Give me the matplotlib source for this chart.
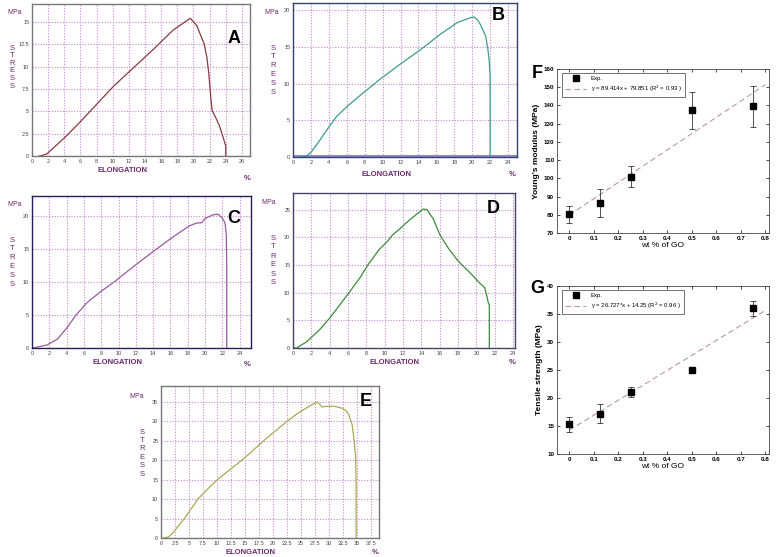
import matplotlib
matplotlib.use("Agg")
import matplotlib.pyplot as plt
import numpy as np

plt.rcParams['font.family'] = ['Liberation Sans', 'DejaVu Sans']

# stress-strain curves (elongation %, stress MPa)
a_strain = [0.9, 1.0, 1.8, 4.1, 5.95, 10.1, 12.6, 15.0, 17.5, 19.2, 19.6, 20.4, 20.8, 21.3,
            21.65, 21.9, 22.1, 22.3, 22.7, 23.2, 23.6, 24.0, 24.0]
a_stress = [0.0, 0.0, 0.2, 2.1, 3.8, 7.8, 9.9, 11.9, 14.1, 15.15, 15.4, 14.6, 13.7, 12.6,
            11.1, 9.2, 7.0, 5.1, 4.4, 3.4, 2.3, 1.1, 0.0]

b_strain = [0.75, 1.5, 2.05, 3.0, 3.9, 4.85, 6.0, 7.1, 8.2, 9.7, 11.9, 14.2, 16.4, 18.3,
            19.8, 20.2, 20.6, 20.9, 21.5, 21.75, 21.9, 22.0, 22.0, 22.0]
b_stress = [0.0, 0.1, 0.7, 2.3, 3.9, 5.5, 6.85, 8.0, 9.1, 10.6, 12.6, 14.6, 16.7, 18.3,
            19.0, 19.1, 18.7, 18.1, 16.5, 14.7, 13.1, 11.0, 6.9, 0.0]

c_strain = [0.0, 0.3, 1.7, 2.9, 4.0, 5.1, 6.3, 7.9, 9.5, 11.9, 14.4, 16.4, 18.2, 19.0, 19.6,
            20.0, 20.9, 21.5, 22.0, 22.3, 22.45, 22.5, 22.5]
c_stress = [0.0, 0.05, 0.45, 1.3, 3.0, 5.0, 6.8, 8.5, 10.0, 12.5, 15.0, 16.9, 18.5, 18.9, 18.95,
            19.6, 20.15, 20.25, 19.65, 18.9, 17.1, 12.6, 0.0]

d_strain = [0.0, 0.4, 1.5, 2.9, 4.0, 5.1, 6.2, 7.3, 8.2, 9.4, 10.2, 10.9, 11.5, 12.4, 13.5,
            14.2, 14.6, 15.3, 16.0, 16.9, 18.0, 19.3, 20.3, 20.9, 21.1, 21.3, 21.4, 21.4]
d_stress = [0.0, 0.0, 1.15, 3.3, 5.4, 7.8, 10.2, 12.7, 15.1, 17.8, 19.1, 20.5, 21.3, 22.7, 24.2,
            25.1, 25.0, 23.3, 20.5, 18.1, 15.7, 13.6, 11.8, 10.9, 9.6, 8.1, 7.8, 0.0]

e_strain = [0.0, 0.5, 1.4, 2.3, 3.3, 4.2, 5.3, 6.6, 8.3, 10.1, 12.3, 14.5, 16.5, 18.4, 20.5,
            22.6, 24.5, 26.5, 28.0, 28.8, 29.6, 31.0, 32.4, 33.0, 33.6, 34.2, 34.5, 34.8, 34.9, 34.9]
e_stress = [0.0, 0.0, 0.3, 1.6, 3.5, 5.0, 7.3, 10.0, 12.5, 15.0, 17.5, 20.0, 22.5, 25.0, 27.5,
            30.0, 32.0, 33.8, 34.9, 33.6, 33.8, 33.8, 33.3, 32.8, 31.6, 29.0, 25.6, 21.3, 15.3, 0.0]

# GO content series
wt_go = [0, 0.125, 0.25, 0.5, 0.75]
modulus = [80.2, 86.5, 101.0, 137.3, 139.5]
modulus_err = [4.5, 7.5, 5.5, 10.3, 11.2]
strength = [15.3, 17.2, 21.1, 25.0, 36.0]
strength_err = [1.3, 1.7, 0.85, 0.0, 1.3]
fit_mod = (89.414, 79.851)
fit_str = (26.727, 14.25)

W, H = 780, 557
fig = plt.figure(figsize=(7.8, 5.57), dpi=100)

purple = '#6b2a6b'
gridc = '#c58ad0'


def box(l, t, r, b):
    return [l / W, 1 - b / H, (r - l) / W, (b - t) / H]


def ftext(x, y, s, **kw):
    fig.text(x / W, 1 - y / H, s, **kw)


def stress_panel(rect, xs, ys, color, xlim, xstep, ylim, yticks, ylabels, frame,
                 letter, lpos, mpa, stress_x, stress_y, elong, pct):
    ax = fig.add_axes(box(*rect))
    ax.plot(xs, ys, color=color, lw=0.9)
    ax.set_xlim(*xlim)
    ax.set_ylim(*ylim)
    xt = np.arange(0, xlim[1] + 1e-6, xstep)
    ax.set_xticks(xt)
    ax.set_xticklabels([('%g' % v) for v in xt])
    ax.set_yticks(yticks)
    ax.set_yticklabels(ylabels)
    ax.tick_params(length=0, labelsize=4, colors='#444444', pad=2)
    ax.grid(True, color=gridc, ls=(0, (1, 1.5)), lw=0.8)
    for s in ax.spines.values():
        s.set_color(frame)
        s.set_linewidth(1.0)
    ax.text(lpos[0], lpos[1], letter, transform=ax.transAxes, fontsize=13,
            fontweight='bold', ha='center', va='center')
    ftext(mpa[0], mpa[1], 'MPa', fontsize=5, color=purple, ha='center', va='center')
    for i, ch in enumerate('STRESS'):
        ftext(stress_x, stress_y[0] + i * (stress_y[1] - stress_y[0]) / 5, ch,
              fontsize=5.5, color=purple, ha='center', va='center')
    ftext(elong[0], elong[1], 'ELONGATION', fontsize=5.5, color=purple,
          fontweight='bold', ha='center', va='center')
    ftext(pct[0], pct[1], '%', fontsize=5.5, color=purple, fontweight='bold',
          ha='center', va='center')
    return ax


stress_panel((32, 4, 250, 156), a_strain, a_stress, '#8a3a40', (0, 27), 2, (0, 17),
             [0, 2.5, 5, 7.5, 10, 12.5, 15], ['0', '2.5', '5', '7.5', '10', '12.5', '15'],
             '#777777', 'A', (0.925, 0.77), (15, 13), 12, (48, 86), (123, 171), (247, 178))

axb = stress_panel((293, 3, 517, 157), b_strain, b_stress, '#3d9c8c', (0, 25), 2, (0, 21),
                   [0, 5, 10, 15, 20], ['0', '5', '10', '15', '20'],
                   '#334466', 'B', (0.915, 0.92), (272, 12), 273, (48, 92), (386, 175), (512, 174))
axb.axhline(0.15, color='#8c86d8', lw=2.2, zorder=1)

stress_panel((32, 196, 251, 348), c_strain, c_stress, '#9a5aa0', (0, 25.3), 2, (0, 23),
             [0, 5, 10, 15, 20], ['0', '5', '10', '15', '20'],
             '#222255', 'C', (0.92, 0.85), (15, 205), 12, (240, 284), (118, 363), (247, 364))

stress_panel((293, 193, 515, 348), d_strain, d_stress, '#3c8a3c', (0, 24.2), 2, (0, 28),
             [0, 5, 10, 15, 20, 25], ['0', '5', '10', '15', '20', '25'],
             '#444466', 'D', (0.9, 0.9), (269, 202), 273, (238, 283), (395, 363), (512, 363))

stress_panel((161, 386, 379, 538), e_strain, e_stress, '#aaa855', (0, 39), 2.5, (0, 39),
             [0, 5, 10, 15, 20, 25, 30, 35], ['0', '5', '10', '15', '20', '25', '30', '35'],
             '#777777', 'E', (0.94, 0.9), (137, 397), 142, (432, 474), (250, 552), (375, 553))


def go_panel(rect, y, err, fit, ylim, yticks, ylabel, letter, lpos, fitlabel):
    ax = fig.add_axes(box(*rect))
    xf = np.array([0, 0.8])
    ax.plot(xf, fit[0] * xf + fit[1], ls=(0, (5, 3)), color='#b89a9e', lw=0.8,
            label=fitlabel, zorder=1)
    ax.errorbar(wt_go, y, yerr=err, fmt='s', color='black', ms=4, capsize=2,
                elinewidth=0.6, capthick=0.6, ecolor='#333333', label='Exp.', zorder=3)
    ax.set_xlim(-0.05, 0.815)
    ax.set_ylim(*ylim)
    ax.set_xticks(np.arange(0, 0.81, 0.1))
    ax.set_xticklabels(['0', '0.1', '0.2', '0.3', '0.4', '0.5', '0.6', '0.7', '0.8'])
    ax.set_yticks(yticks)
    ax.tick_params(direction='in', length=2, width=0.5, labelsize=4.5, top=True, right=True, pad=2)
    for lab in ax.get_xticklabels() + ax.get_yticklabels():
        lab.set_fontweight('bold')
    ax.set_xlabel('wt % of GO', fontsize=6, labelpad=1)
    ax.set_ylabel(ylabel, fontsize=6, fontweight='bold', labelpad=3)
    for s in ax.spines.values():
        s.set_linewidth(0.6)
        s.set_color('#444444')
    h, l = ax.get_legend_handles_labels()
    leg = ax.legend(h[::-1], l[::-1], loc='upper left', fontsize=4.3, frameon=True,
                    fancybox=False, edgecolor='#333333', borderpad=0.5, handlelength=3.5,
                    bbox_to_anchor=(0.01, 0.995))
    leg.get_frame().set_linewidth(0.6)
    ftext(lpos[0], lpos[1], letter, fontsize=13, fontweight='bold', ha='center', va='center')
    return ax


go_panel((557, 69, 769, 233), modulus, modulus_err, fit_mod, (70, 160),
         np.arange(70, 161, 10), "Young's modulus (MPa)", 'F', (537, 73),
         'y = 89.414x + 79.851 (R$^2$ = 0.93 )')
go_panel((557, 286, 769, 454), strength, strength_err, fit_str, (10, 40),
         np.arange(10, 41, 5), 'Tensile strength (MPa)', 'G', (537, 289),
         'y = 26.727*x + 14.25 (R$^2$ = 0.96 )')

fig.savefig('out.png', dpi=100)
